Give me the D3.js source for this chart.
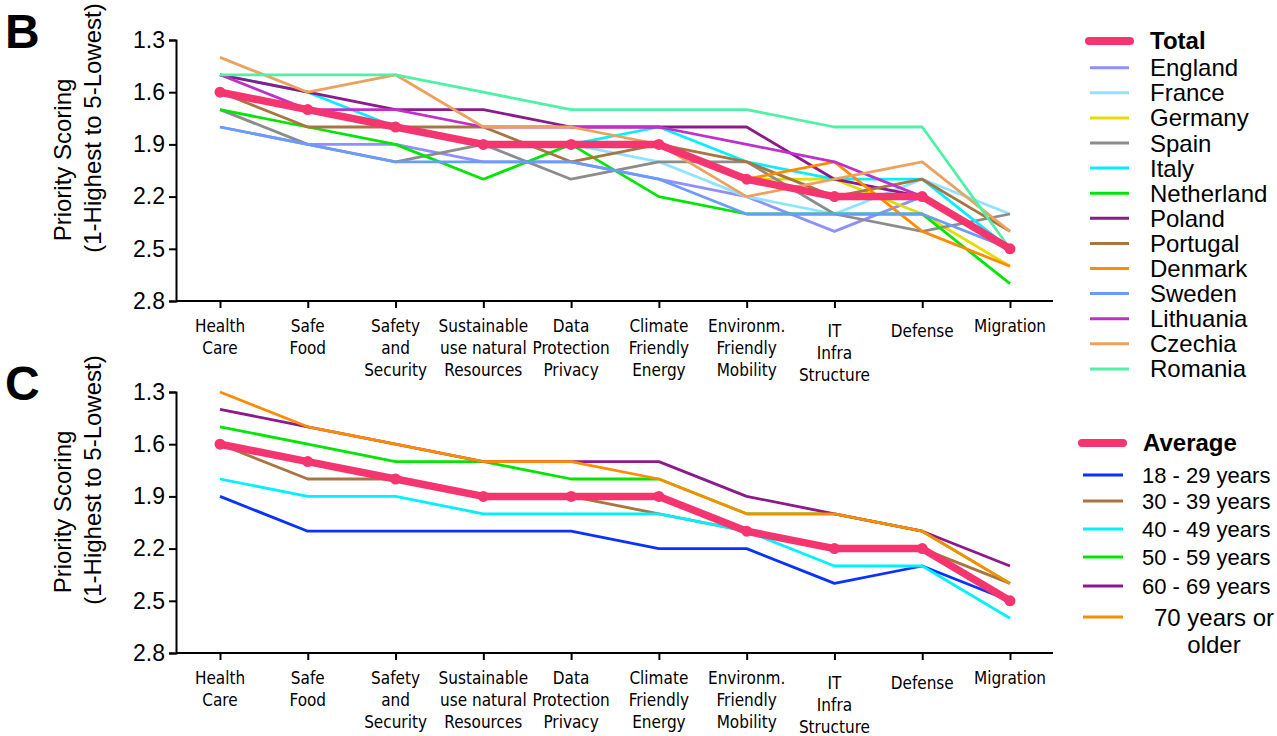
<!DOCTYPE html>
<html>
<head>
<meta charset="utf-8">
<script src="https://cdn.jsdelivr.net/npm/d3@7"></script>
<style>
  body { margin: 0; background: #fff; }
  svg { display: block; }
</style>
</head>
<body>
<div id="chart-container"></div>
<script>
// Categories (x axis)
const categories = ["Health Care", "Safe Food", "Safety and Security", "Sustainable use natural Resources",
    "Data Protection Privacy", "Climate Friendly Energy", "Environm. Friendly Mobility",
    "IT Infra Structure", "Defense", "Migration"];
const categoryLines = [["Health", "Care"], ["Safe", "Food"], ["Safety", "and", "Security"],
    ["Sustainable", "use natural", "Resources"], ["Data", "Protection", "Privacy"],
    ["Climate", "Friendly", "Energy"], ["Environm.", "Friendly", "Mobility"],
    ["IT", "Infra", "Structure"], ["Defense"], ["Migration"]];
const yTicks = [1.3, 1.6, 1.9, 2.2, 2.5, 2.8];

// Panel B: countries
const countryNames = ["England", "France", "Germany", "Spain", "Italy", "Netherland", "Poland",
    "Portugal", "Denmark", "Sweden", "Lithuania", "Czechia", "Romania"];
const countryColors = ["#8f8fff", "#8fe3ff", "#e3dc00", "#8c8c8c", "#00f0ff", "#00e600", "#8b1a8b",
    "#a8743f", "#ff8c00", "#6a9bff", "#c030c8", "#eba25e", "#4df2a5"];
const england    = [1.8, 1.9, 1.9, 2.0, 2.0, 2.1, 2.2, 2.4, 2.2, 2.5];
const france     = [1.6, 1.7, 1.8, 1.9, 1.9, 2.0, 2.2, 2.3, 2.1, 2.3];
const germany    = [1.6, 1.7, 1.8, 1.9, 1.9, 1.9, 2.1, 2.1, 2.3, 2.6];
const spain      = [1.7, 1.9, 2.0, 1.9, 2.1, 2.0, 2.0, 2.3, 2.4, 2.3];
const italy      = [1.5, 1.6, 1.8, 1.9, 1.9, 1.8, 2.0, 2.1, 2.1, 2.5];
const netherland = [1.7, 1.8, 1.9, 2.1, 1.9, 2.2, 2.3, 2.3, 2.3, 2.7];
const poland     = [1.5, 1.6, 1.7, 1.7, 1.8, 1.8, 1.8, 2.1, 2.2, 2.5];
const portugal   = [1.6, 1.8, 1.8, 1.8, 2.0, 1.9, 2.0, 2.2, 2.1, 2.4];
const denmark    = [1.6, 1.7, 1.8, 1.9, 1.9, 1.9, 2.1, 2.0, 2.4, 2.6];
const sweden     = [1.8, 1.9, 2.0, 2.0, 2.0, 2.1, 2.3, 2.3, 2.3, 2.5];
const lithuania  = [1.5, 1.7, 1.7, 1.8, 1.8, 1.8, 1.9, 2.0, 2.2, 2.5];
const czechia    = [1.4, 1.6, 1.5, 1.8, 1.8, 1.9, 2.2, 2.1, 2.0, 2.4];
const romania    = [1.5, 1.5, 1.5, 1.6, 1.7, 1.7, 1.7, 1.8, 1.8, 2.5];
const total      = [1.6, 1.7, 1.8, 1.9, 1.9, 1.9, 2.1, 2.2, 2.2, 2.5];
const countryValues = [england, france, germany, spain, italy, netherland, poland,
    portugal, denmark, sweden, lithuania, czechia, romania];

// Panel C: age groups
const ageNames = ["18 - 29 years", "30 - 39 years", "40 - 49 years", "50 - 59 years", "60 - 69 years", "70 years or|older"];
const ageColors = ["#0a32ff", "#a8743f", "#00f0ff", "#00e600", "#8b1a8b", "#ff8c00"];
const age18 = [1.9, 2.1, 2.1, 2.1, 2.1, 2.2, 2.2, 2.4, 2.3, 2.5];
const age30 = [1.6, 1.8, 1.8, 1.9, 1.9, 2.0, 2.1, 2.2, 2.2, 2.4];
const age40 = [1.8, 1.9, 1.9, 2.0, 2.0, 2.0, 2.1, 2.3, 2.3, 2.6];
const age50 = [1.5, 1.6, 1.7, 1.7, 1.8, 1.8, 2.0, 2.0, 2.1, 2.4];
const age60 = [1.4, 1.5, 1.6, 1.7, 1.7, 1.7, 1.9, 2.0, 2.1, 2.3];
const age70 = [1.3, 1.5, 1.6, 1.7, 1.7, 1.8, 2.0, 2.0, 2.1, 2.4];
const average = [1.6, 1.7, 1.8, 1.9, 1.9, 1.9, 2.1, 2.2, 2.2, 2.5];
const ageValues = [age18, age30, age40, age50, age60, age70];

const pink = "#f5356f";
const font = "'Liberation Sans', Arial, sans-serif";
const narrow = "'Liberation Sans Narrow', 'DejaVu Sans Condensed', sans-serif";

const svg = d3.select("#chart-container")
    .append("svg")
    .attr("width", 1277)
    .attr("height", 736)
    .style("font-family", font);

const x = d3.scalePoint().domain(categories).range([220, 1010]);

function panel(top, letter, series, colors, mainValues) {
    const y = d3.scaleLinear().domain([1.3, 2.8]).range([top, top + 261]);
    const g = svg.append("g");

    // panel letter
    svg.append("text")
        .attr("x", 5).attr("y", top + 8)
        .style("font-family", font)
        .style("font-weight", "bold")
        .style("font-size", "48px")
        .text(letter);

    // y axis
    const yAxis = g.append("g")
        .attr("transform", "translate(176,0)")
        .call(d3.axisLeft(y).tickValues(yTicks).tickFormat(d3.format(".1f")).tickSize(7).tickPadding(4));
    yAxis.selectAll("text").style("font-size", "23px").style("font-family", font).attr("fill", "#000");

    // x axis
    const xAxis = g.append("g")
        .attr("transform", `translate(0,${top + 261})`)
        .call(d3.axisBottom(x).tickSize(7).tickFormat(""));
    xAxis.select(".domain").attr("d", "M176,0H1053");

    [yAxis, xAxis].forEach((a) => {
        a.selectAll("path, line").attr("stroke", "#000").attr("stroke-width", 2);
    });

    // x labels (multi-line)
    categories.forEach((c, i) => {
        const extra = (c === "IT Infra Structure" || c === "Defense") ? 5 : 0;
        const t = g.append("text")
            .attr("x", x(c))
            .attr("y", top + 292 + extra)
            .attr("text-anchor", "middle")
            .style("font-family", narrow)
            .style("font-size", "17px");
        categoryLines[i].forEach((l, j) => {
            t.append("tspan").attr("x", x(c)).attr("dy", j === 0 ? 0 : 22).text(l);
        });
    });

    // y title
    const midY = top + 130;
    g.append("text")
        .attr("transform", `translate(71,${midY - 10}) rotate(-90)`)
        .attr("text-anchor", "middle")
        .style("font-size", "24px")
        .text("Priority Scoring");
    g.append("text")
        .attr("transform", `translate(101,${midY - 42}) rotate(-90)`)
        .attr("text-anchor", "middle")
        .style("font-size", "24px")
        .text("(1-Highest to 5-Lowest)");

    const line = d3.line().x((d, i) => x(categories[i])).y((d) => y(d));

    g.selectAll(".series")
        .data(series)
        .enter()
        .append("path")
        .attr("fill", "none")
        .attr("stroke", (d, i) => colors[i])
        .attr("stroke-width", 2.8)
        .attr("stroke-linejoin", "round")
        .attr("d", line);

    g.append("path")
        .attr("fill", "none")
        .attr("stroke", pink)
        .attr("stroke-width", 7.5)
        .attr("stroke-linejoin", "round")
        .attr("d", line(mainValues));

    g.selectAll(".dot")
        .data(mainValues)
        .enter()
        .append("circle")
        .attr("cx", (d, i) => x(categories[i]))
        .attr("cy", (d) => y(d))
        .attr("r", 5.5)
        .attr("fill", pink);
}

panel(40, "B", countryValues, countryColors, total);
panel(392, "C", ageValues, ageColors, average);

// Legend B
const legB = svg.append("g");
legB.append("line").attr("x1", 1089).attr("x2", 1130).attr("y1", 41).attr("y2", 41)
    .attr("stroke", pink).attr("stroke-width", 8).attr("stroke-linecap", "round");
legB.append("text").attr("x", 1150).attr("y", 49).style("font-size", "24px")
    .style("font-weight", "bold").text("Total");
countryNames.forEach((n, i) => {
    const yy = 67.7 + i * 25.1;
    legB.append("line").attr("x1", 1090).attr("x2", 1129).attr("y1", yy).attr("y2", yy)
        .attr("stroke", countryColors[i]).attr("stroke-width", 3);
    legB.append("text").attr("x", 1150).attr("y", yy + 8.5).style("font-size", "24px").text(n);
});

// Legend C
const legC = svg.append("g");
legC.append("line").attr("x1", 1082).attr("x2", 1123).attr("y1", 443).attr("y2", 443)
    .attr("stroke", pink).attr("stroke-width", 8).attr("stroke-linecap", "round");
legC.append("text").attr("x", 1143).attr("y", 451).style("font-size", "24px")
    .style("font-weight", "bold").text("Average");
const ageY = [475, 501, 529, 557, 586, 617];
ageNames.forEach((n, i) => {
    legC.append("line").attr("x1", 1083).attr("x2", 1123).attr("y1", ageY[i]).attr("y2", ageY[i])
        .attr("stroke", ageColors[i]).attr("stroke-width", 3);
    const parts = n.split("|");
    if (parts.length === 1) {
        legC.append("text").attr("x", 1142).attr("y", ageY[i] + 8).style("font-size", "22px").text(n);
    } else {
        const t = legC.append("text").attr("x", 1214).attr("y", ageY[i] + 8.5)
            .attr("text-anchor", "middle").style("font-size", "24px");
        parts.forEach((p, j) => t.append("tspan").attr("x", 1214).attr("dy", j === 0 ? 0 : 27).text(p));
    }
});
</script>
</body>
</html>
